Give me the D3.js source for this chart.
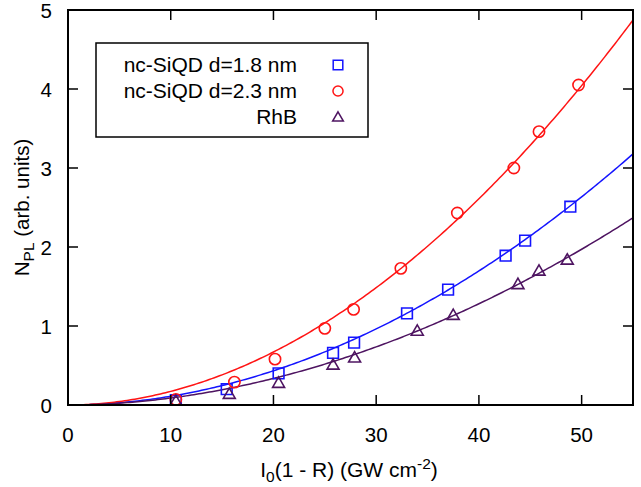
<!DOCTYPE html>
<html>
<head>
<meta charset="utf-8">
<script src="https://cdn.jsdelivr.net/npm/d3@7"></script>
<style>
  html, body { margin: 0; padding: 0; background: #fff; }
  svg { display: block; }
  text { font-family: "Liberation Sans", Arial, Helvetica, sans-serif; fill: #000; }
</style>
</head>
<body>
<svg id="chart" width="641" height="487"></svg>
<script>
// Series labels and colours
const seriesNames = ["nc-SiQD d=1.8 nm", "nc-SiQD d=2.3 nm", "RhB"];
const seriesColors = ["#1414ff", "#ff1414", "#4e1461"];
const seriesShapes = ["square", "circle", "triangle"];

// Measured points: absorbed intensity I0(1-R) (GW cm^-2) and N_PL (arb. units)
const sq18X = [10.5, 15.45, 20.5, 25.8, 27.85, 33.0, 37.0, 42.6, 44.5, 48.9];
const sq18Y = [0.06, 0.20, 0.40, 0.66, 0.79, 1.16, 1.46, 1.89, 2.08, 2.51];
const ci23X = [10.5, 16.2, 20.15, 25.0, 27.8, 32.4, 37.9, 43.4, 45.85, 49.7];
const ci23Y = [0.07, 0.29, 0.58, 0.97, 1.21, 1.73, 2.43, 3.00, 3.46, 4.05];
const rhbX  = [10.5, 15.7, 20.5, 25.8, 27.9, 34.0, 37.5, 43.8, 45.85, 48.6];
const rhbY  = [0.05, 0.14, 0.28, 0.51, 0.60, 0.94, 1.14, 1.53, 1.70, 1.84];

// Power-law fits N = a * I^n for each series
const fitCoef = [0.001185, 0.001891, 0.001037];
const fitExp  = [1.97, 1.96, 1.93];

// Axis ticks
const xTicks = [0, 10, 20, 30, 40, 50];
const yTicks = [0, 1, 2, 3, 4, 5];

const pointsX = [sq18X, ci23X, rhbX];
const pointsY = [sq18Y, ci23Y, rhbY];

const svg = d3.select("#chart");
const M = { left: 68, right: 633, top: 10, bottom: 405 };

const x = d3.scaleLinear().domain([0, 55]).range([M.left, M.right]);
const y = d3.scaleLinear().domain([0, 5]).range([M.bottom, M.top]);

svg.append("defs").append("clipPath").attr("id", "plotClip")
  .append("rect")
  .attr("x", M.left).attr("y", M.top)
  .attr("width", M.right - M.left).attr("height", M.bottom - M.top);

// Fitted curves
const plot = svg.append("g").attr("clip-path", "url(#plotClip)");
const line = d3.line().x(d => x(d[0])).y(d => y(d[1]));
fitCoef.forEach((a, i) => {
  const pts = d3.range(0, 55.01, 0.25).map(v => [v, a * Math.pow(v, fitExp[i])]);
  plot.append("path")
    .attr("d", line(pts))
    .attr("fill", "none")
    .attr("stroke", seriesColors[i])
    .attr("stroke-width", 1.5);
});

// Marker drawing
const symSize = { square: 115, circle: 100, triangle: 62 };
function symbolPath(shape, scale) {
  const t = shape === "square" ? d3.symbolSquare : shape === "circle" ? d3.symbolCircle : d3.symbolTriangle;
  return d3.symbol().type(t).size(symSize[shape] * scale)();
}

pointsX.forEach((xs, i) => {
  plot.selectAll(null)
    .data(xs.map((v, k) => [v, pointsY[i][k]]))
    .enter().append("path")
    .attr("d", symbolPath(seriesShapes[i], 1))
    .attr("transform", d => `translate(${x(d[0])},${y(d[1]) + (seriesShapes[i] === "triangle" ? 1 : 0)})`)
    .attr("fill", "none")
    .attr("stroke", seriesColors[i])
    .attr("stroke-width", 1.6);
});

// Frame and inward ticks on all four sides
const axes = svg.append("g").attr("stroke", "#000").attr("stroke-width", 1.5);
axes.append("rect")
  .attr("x", M.left).attr("y", M.top)
  .attr("width", M.right - M.left).attr("height", M.bottom - M.top)
  .attr("fill", "none").attr("stroke-width", 2);
const tl = 10;
xTicks.forEach(v => {
  axes.append("line").attr("x1", x(v)).attr("x2", x(v)).attr("y1", M.bottom).attr("y2", M.bottom - tl);
  axes.append("line").attr("x1", x(v)).attr("x2", x(v)).attr("y1", M.top).attr("y2", M.top + tl);
});
yTicks.forEach(v => {
  axes.append("line").attr("x1", M.left).attr("x2", M.left + tl).attr("y1", y(v)).attr("y2", y(v));
  axes.append("line").attr("x1", M.right).attr("x2", M.right - tl).attr("y1", y(v)).attr("y2", y(v));
});

// Tick labels
const fs = 20.5;
svg.selectAll(".xl").data(xTicks).enter().append("text")
  .attr("x", d => x(d)).attr("y", 442)
  .attr("text-anchor", "middle").attr("font-size", fs)
  .text(d => d);
svg.selectAll(".yl").data(yTicks).enter().append("text")
  .attr("x", 52).attr("y", d => y(d) + 8)
  .attr("text-anchor", "end").attr("font-size", fs)
  .text(d => d);

// Axis titles
const xt = svg.append("text").attr("x", 349).attr("y", 477)
  .attr("text-anchor", "middle").attr("font-size", 21);
xt.append("tspan").text("I");
xt.append("tspan").attr("font-size", 15.5).attr("dy", 5).text("0");
xt.append("tspan").attr("dy", -5).text("(1 - R) (GW cm");
xt.append("tspan").attr("font-size", 15.5).attr("dy", -8).text("-2");
xt.append("tspan").attr("dy", 8).text(")");

const yt = svg.append("text")
  .attr("transform", `translate(29,${(M.top + M.bottom) / 2}) rotate(-90)`)
  .attr("text-anchor", "middle").attr("font-size", fs);
yt.append("tspan").text("N");
yt.append("tspan").attr("font-size", 15.5).attr("dy", 5).text("PL");
yt.append("tspan").attr("dy", -5).text(" (arb. units)");

// Legend
const lg = svg.append("g");
lg.append("rect")
  .attr("x", 96).attr("y", 43).attr("width", 272).attr("height", 94)
  .attr("fill", "#fff").attr("stroke", "#000").attr("stroke-width", 1.5);
seriesNames.forEach((name, i) => {
  const cy = 65 + i * 26;
  lg.append("text")
    .attr("x", 297).attr("y", cy + 7)
    .attr("text-anchor", "end").attr("font-size", 21)
    .text(name);
  lg.append("path")
    .attr("d", symbolPath(seriesShapes[i], 0.8))
    .attr("transform", `translate(338,${cy + (seriesShapes[i] === "triangle" ? 1 : 0)})`)
    .attr("fill", "none")
    .attr("stroke", seriesColors[i])
    .attr("stroke-width", 1.5);
});
</script>
</body>
</html>
